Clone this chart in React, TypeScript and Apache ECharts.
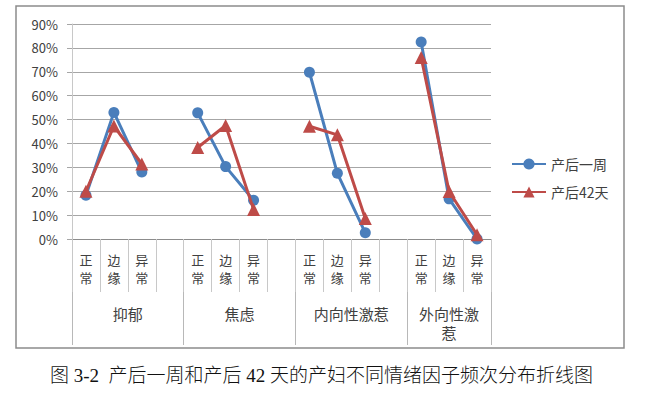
import React, { useEffect, useRef } from "react";
import * as echarts from "echarts";

// Sub-categories within each emotion factor
const subCategories = ["正\n常", "边\n缘", "异\n常"];
// Emotion factor groups
const groupNames = ["抑郁", "焦虑", "内向性激惹", "外向性激\n惹"];
// Values (%) for each group: 正常, 边缘, 异常
const week1Values = [18.3, 53, 28, 52.8, 30.3, 16.2, 69.8, 27.5, 2.6, 82.5, 16.8, 0];
const day42Values = [20, 47.3, 31.4, 38.3, 47.5, 12.4, 47.2, 43.6, 8.6, 76, 19.9, 1.8];
const seriesNames = ["产后一周", "产后42天"];
const yTicks = [0, 10, 20, 30, 40, 50, 60, 70, 80, 90];
const caption = "图 3-2  产后一周和产后 42 天的产妇不同情绪因子频次分布折线图";

const SANS = "'Noto Sans CJK SC', 'Noto Sans', sans-serif";

function buildCategories(): string[] {
  const out: string[] = [];
  groupNames.forEach((_, gi) => {
    subCategories.forEach((c) => out.push(c));
    if (gi < groupNames.length - 1) out.push("");
  });
  return out;
}

function buildSeries(values: number[]): (number | null)[] {
  const out: (number | null)[] = [];
  groupNames.forEach((_, gi) => {
    for (let k = 0; k < subCategories.length; k++) out.push(values[gi * 3 + k]);
    if (gi < groupNames.length - 1) out.push(null);
  });
  return out;
}

export default function App() {
  const ref = useRef<HTMLDivElement>(null);
  useEffect(() => {
    if (!ref.current) return;
    const chart = echarts.init(ref.current, null, { renderer: "svg" });
    const cats = buildCategories();
    const slots = cats.length;
    const boundaries: number[] = [0];
    const centers: number[] = [];
    let pos = 0;
    groupNames.forEach((_, gi) => {
      const w = gi < groupNames.length - 1 ? subCategories.length + 1 : subCategories.length;
      centers.push(pos + w / 2);
      pos += w;
      boundaries.push(pos);
    });

    chart.setOption({
      animation: false,
      backgroundColor: "#ffffff",
      graphic: [
        {
          type: "rect",
          shape: { x: 16, y: 6, width: 608, height: 342 },
          style: { fill: "none", stroke: "#8c8c8c", lineWidth: 1.5 },
          silent: true,
        },
      ],
      title: {
        text: caption,
        left: 45,
        top: 361,
        textStyle: {
          fontFamily: "'Liberation Serif', 'Noto Sans CJK SC', serif",
          fontSize: 19,
          fontWeight: 300,
          color: "#111",
        },
      },
      legend: {
        orient: "vertical",
        left: 506,
        top: 152,
        itemWidth: 34,
        itemHeight: 14,
        itemGap: 14,
        textStyle: { fontFamily: SANS, fontSize: 14, color: "#404040" },
        data: seriesNames,
      },
      grid: { left: 72, right: 170, top: 24, bottom: 159 },
      xAxis: [
        {
          type: "category",
          data: cats,
          boundaryGap: true,
          axisLine: { show: true, lineStyle: { color: "#8c8c8c", width: 1 } },
          axisTick: { show: true, alignWithLabel: false, interval: 0, length: 53, lineStyle: { color: "#c8c8c8" } },
          axisLabel: {
            interval: 0,
            margin: 11,
            fontFamily: SANS,
            fontSize: 13,
            lineHeight: 18,
            color: "#404040",
          },
        },
        {
          type: "value",
          position: "bottom",
          offset: 53,
          min: 0,
          max: slots,
          axisLine: { show: false },
          splitLine: { show: false },
          axisTick: {
            show: true,
            length: 53,
            customValues: boundaries,
            lineStyle: { color: "#b8b8b8" },
          },
          axisLabel: {
            show: true,
            customValues: centers,
            margin: 12,
            fontFamily: SANS,
            fontSize: 15,
            lineHeight: 19,
            color: "#404040",
            formatter: (v: number) => {
              const i = centers.findIndex((c) => Math.abs(c - v) < 1e-6);
              return i >= 0 ? groupNames[i] : "";
            },
          },
        },
      ],
      yAxis: {
        type: "value",
        min: 0,
        max: yTicks[yTicks.length - 1],
        interval: 10,
        axisLine: { show: true, lineStyle: { color: "#c8c8c8" } },
        axisTick: { show: true, length: 5, lineStyle: { color: "#a6a6a6" } },
        splitLine: { show: true, lineStyle: { color: "#a6a6a6", width: 1 } },
        axisLabel: {
          margin: 14,
          fontFamily: SANS,
          fontSize: 13,
          color: "#404040",
          formatter: "{value}%",
        },
      },
      series: [
        {
          name: seriesNames[0],
          type: "line",
          data: buildSeries(week1Values),
          connectNulls: false,
          symbol: "circle",
          symbolSize: 11,
          lineStyle: { color: "#4a7ebb", width: 3 },
          itemStyle: { color: "#4a7ebb" },
          z: 2,
        },
        {
          name: seriesNames[1],
          type: "line",
          data: buildSeries(day42Values),
          connectNulls: false,
          symbol: "triangle",
          symbolSize: 13,
          lineStyle: { color: "#be4b48", width: 3 },
          itemStyle: { color: "#be4b48" },
          z: 3,
        },
      ],
    });
    return () => chart.dispose();
  }, []);
  return (
    <div
      ref={ref}
      style={{ position: "fixed", left: 0, top: 0, width: 661, height: 398 }}
    />
  );
}
